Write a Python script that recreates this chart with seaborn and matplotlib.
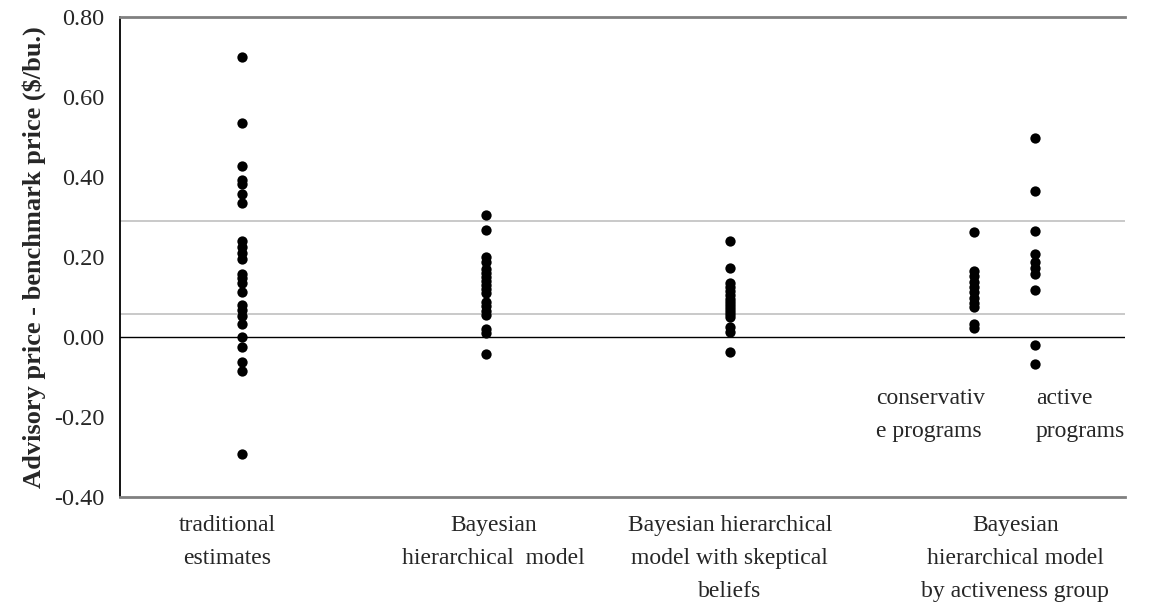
import numpy as np
import pandas as pd
import matplotlib
matplotlib.use("Agg")
import matplotlib.pyplot as plt
import seaborn as sns

# ---- data ----
groups = ["traditional", "bayes", "skeptical", "conservative", "active"]
traditional = [0.700, 0.535, 0.428, 0.392, 0.382, 0.357, 0.335, 0.240, 0.225, 0.210,
               0.195, 0.158, 0.148, 0.135, 0.112, 0.080, 0.068, 0.052, 0.032, 0.000,
               -0.025, -0.062, -0.085, -0.292]
bayes = [0.305, 0.267, 0.200, 0.188, 0.170, 0.160, 0.150, 0.140, 0.130, 0.120,
         0.110, 0.088, 0.078, 0.065, 0.055, 0.020, 0.010, -0.043]
skeptical = [0.240, 0.172, 0.135, 0.125, 0.115, 0.105, 0.095, 0.088, 0.080, 0.072,
             0.065, 0.058, 0.050, 0.025, 0.013, -0.038]
conservative = [0.262, 0.165, 0.152, 0.138, 0.125, 0.112, 0.098, 0.085, 0.075,
                0.032, 0.022]
active = [0.497, 0.365, 0.265, 0.208, 0.188, 0.172, 0.157, 0.118, -0.020, -0.068]
ref_lines = [0.290, 0.057]

category_labels = ["traditional\nestimates",
                   "Bayesian\nhierarchical  model",
                   "Bayesian hierarchical\nmodel with skeptical\nbeliefs",
                   "Bayesian\nhierarchical model\nby activeness group"]
sub_labels = ["conservativ\ne programs", "active\nprograms"]
yticks = [-0.40, -0.20, 0.00, 0.20, 0.40, 0.60, 0.80]

# ---- layout ----
group_x = {"traditional": 1.0, "bayes": 2.0, "skeptical": 3.0,
           "conservative": 4.0, "active": 4.25}
label_x = [0.94, 2.03, 3.0, 4.17]

series = {"traditional": traditional, "bayes": bayes, "skeptical": skeptical,
          "conservative": conservative, "active": active}
rows = []
for g in groups:
    for v in series[g]:
        rows.append({"group": g, "x": group_x[g], "value": v})
df = pd.DataFrame(rows)

sns.set_style("white")
plt.rcParams["font.family"] = ["Liberation Serif", "DejaVu Serif"]

fig = plt.figure(figsize=(11.5, 6.1), dpi=100)
ax = fig.add_axes([120 / 1150, 1 - 497 / 610, (1125 - 120) / 1150, 480 / 610])

for y in ref_lines:
    ax.axhline(y, color="#c0c0c0", lw=1.2, zorder=1)
ax.axhline(0, color="black", lw=1.0, zorder=1)

sns.scatterplot(data=df, x="x", y="value", color="black", s=55,
                edgecolor="black", linewidth=0, legend=False, ax=ax, zorder=3)

ax.set_xlim(0.5, 4.62)
ax.set_ylim(-0.40, 0.80)
ax.set_yticks(yticks)
ax.set_yticklabels([f"{t:.2f}" for t in yticks], fontsize=17.5)
ax.set_yticks(ref_lines, minor=True)
ax.tick_params(axis="y", which="major", direction="out", length=6, width=1.2,
               color="black", pad=5)
ax.tick_params(axis="y", which="minor", direction="in", length=5, width=1.2,
               color="black", labelleft=False)

ax.set_xticks(label_x)
ax.set_xticklabels(category_labels, fontsize=17, linespacing=1.75)
ax.tick_params(axis="x", length=0, pad=13)

ax.set_xlabel("")
ax.set_ylabel("Advisory price - benchmark price ($/bu.)", fontsize=19,
              fontweight="bold", labelpad=6)

for sp in ["top", "bottom"]:
    ax.spines[sp].set_color("#808080")
    ax.spines[sp].set_linewidth(2)
ax.spines["right"].set_visible(False)
ax.spines["left"].set_color("black")
ax.spines["left"].set_linewidth(1.3)

ax.text(3.598, -0.127, sub_labels[0], fontsize=17, ha="left", va="top",
        linespacing=1.75)
ax.text(4.254, -0.127, sub_labels[1], fontsize=17, ha="left", va="top",
        linespacing=1.75)

fig.savefig("out.png", dpi=100, facecolor="white")
